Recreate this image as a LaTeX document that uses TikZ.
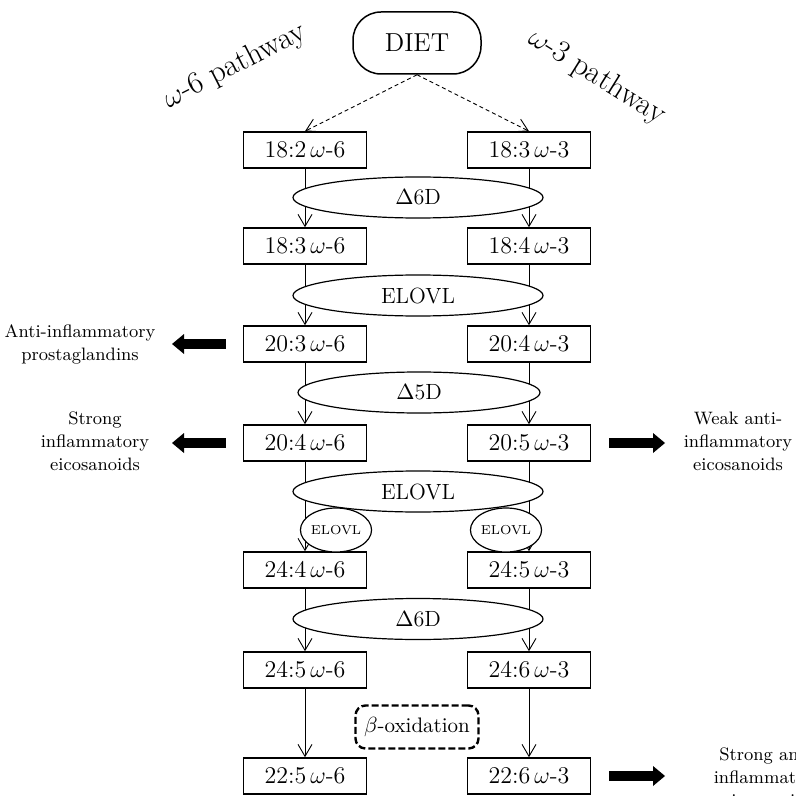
\documentclass[tikz,border=0pt]{standalone}
\usepackage{amsmath}
\usetikzlibrary{arrows.meta,positioning,shapes.geometric}
\tikzset{
  acid/.style={draw=black, line width=0.75pt, minimum width=61.5pt, minimum height=18pt, inner sep=0pt, font=\fontsize{12}{14}\selectfont},
  diet/.style={draw=black, line width=0.75pt, rounded corners=14pt, minimum width=64pt, minimum height=31pt, inner sep=0pt, font=\fontsize{13}{15}\selectfont},
  enzyme/.style={ellipse, draw=black, line width=0.6pt, fill=white, minimum width=125pt, minimum height=20.5pt, inner sep=0pt, font=\fontsize{11}{13}\selectfont},
  subenzyme/.style={ellipse, draw=black, line width=0.6pt, fill=white, minimum width=31pt, minimum height=22pt, inner sep=0pt, font=\fontsize{6.5}{8}\selectfont},
  oxbox/.style={draw=black, line width=1.2pt, dash pattern=on 3.5pt off 1.5pt, rounded corners=5pt, minimum width=61.5pt, minimum height=21.5pt, inner sep=0pt, font=\fontsize{10.5}{12}\selectfont},
  arrow/.style={-{Straight Barb[length=6pt,width=7pt]}, line width=0.45pt},
  feed/.style={arrow, dash pattern=on 2pt off 1.5pt},
  fat/.style={-{Triangle[length=6pt,width=10pt,line width=0pt]}, line width=5pt},
  note/.style={align=center, font=\fontsize{9}{11.5}\selectfont},
  pathlabel/.style={font=\fontsize{15.5}{17}\selectfont},
}

\begin{document}
\begin{tikzpicture}[x=0.5pt,y=-0.5pt]
  \useasboundingbox (0,0) rectangle (796,796);
  \clip (0,0) rectangle (796,796);

  \node[diet] (diet) at (417,43) {DIET};
  \node[pathlabel, rotate=27] (p6) at (235,66) {$\omega$-6 pathway};
  \node[pathlabel, rotate=-32] (p3) at (597,77) {$\omega$-3 pathway};

  % fatty acids, omega-6 left and omega-3 right
  \foreach \i/\y/\a/\b in {1/150/18:2/18:3, 2/246/18:3/18:4, 3/344/20:3/20:4,
      4/443/20:4/20:5, 5/570/24:4/24:5, 6/670/24:5/24:6, 7/776/22:5/22:6}{
    \node[acid] (l\i) at (305,\y) {\a\,$\omega$-6};
    \node[acid] (r\i) at (529,\y) {\b\,$\omega$-3};
  }

  \draw[feed] (diet.south) -- (l1.north);
  \draw[feed] (diet.south) -- (r1.north);
  \foreach \s in {l,r}{
    \foreach \i [count=\j from 2] in {1,...,6}
      \draw[arrow] (\s\i) -- (\s\j);
  }

  % enzymes sit on top of the arrows
  \node[enzyme] (d6a) at (418,197.5) {$\Delta$6D};
  \node[enzyme] (elo1) at (418,295.5) {ELOVL};
  \node[enzyme, minimum width=121pt] (d5) at (419,392.5) {$\Delta$5D};
  \node[enzyme] (elo2) at (418,491.5) {ELOVL};
  \node[subenzyme] (elol) at (336,530) {ELOVL};
  \node[subenzyme] (elor) at (506,530) {ELOVL};
  \node[enzyme] (d6b) at (418,619) {$\Delta$6D};
  \node[oxbox] (beta) at (417,727) {$\beta$-oxidation};

  % products
  \node[note] (prost) at (80,344) {Anti-inflammatory\\prostaglandins};
  \node[note] (infl) at (95,441) {Strong\\inflammatory\\eicosanoids};
  \node[note] (weak) at (738,441) {Weak anti-\\inflammatory\\eicosanoids};
  \node[note] (strong) at (768,777) {Strong anti-\\inflammatory\\eicosanoids};

  \coordinate (t3) at (172,344);
  \coordinate (t4) at (172,443);
  \coordinate (u4) at (665,443);
  \coordinate (u7) at (665,776);
  \draw[fat, shorten <=8.5pt] (l3.west) -- (t3);
  \draw[fat, shorten <=8.5pt] (l4.west) -- (t4);
  \draw[fat, shorten <=9pt] (r4.east) -- (u4);
  \draw[fat, shorten <=9pt] (r7.east) -- (u7);
\end{tikzpicture}
\end{document}
